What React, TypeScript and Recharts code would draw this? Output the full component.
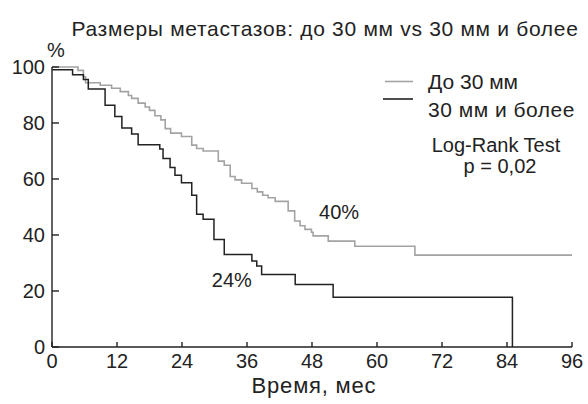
import { LineChart, Line, XAxis, YAxis, ReferenceDot } from 'recharts'

// survival, %
const shortMonths = [0, 4.8, 5.8, 6.2, 8.9, 11.0, 12.6, 14.1, 14.7, 15.9, 17.2, 18.0, 19.0, 20.1, 20.9, 21.9, 23.9, 25.8, 26.7, 27.9, 30.7, 31.8, 32.9, 33.8, 35.0, 36.9, 37.9, 38.9, 39.9, 41.2, 43.6, 44.8, 45.8, 46.7, 47.9, 48.2, 51.0, 55.9, 67.0, 96]
const shortSurvival = [100, 98.8, 96.5, 94.4, 93.5, 92.4, 91.2, 89.8, 88.8, 87.1, 85.7, 84.5, 82.6, 81.1, 78.0, 76.4, 75.2, 72.1, 70.9, 70.0, 66.4, 64.9, 60.9, 59.7, 58.5, 56.6, 55.4, 54.2, 53.3, 52.0, 48.6, 45.0, 43.3, 42.0, 41.0, 39.7, 37.8, 36.0, 32.8, 32.8]

const longMonths = [0, 3.8, 5.8, 6.7, 9.8, 11.6, 12.9, 14.7, 15.9, 19.9, 20.5, 21.8, 22.7, 23.9, 25.8, 26.7, 27.9, 29.9, 31.8, 36.9, 37.8, 38.7, 44.9, 51.9, 85.0]
const longSurvival = [99.0, 97.2, 95.5, 92.1, 86.3, 82.3, 78.2, 76.1, 72.2, 70.7, 67.3, 64.1, 61.3, 58.7, 54.2, 47.4, 45.6, 38.4, 33.0, 30.7, 28.9, 25.9, 22.3, 17.8, 0]

const xTicks = [0, 12, 24, 36, 48, 60, 72, 84, 96]
const yTicks = [0, 20, 40, 60, 80, 100]

const shortData = shortMonths.map((m, i) => ({ m, s: shortSurvival[i] }))
const longData = longMonths.map((m, i) => ({ m, s: longSurvival[i] }))

const INK = '#222'
const GRAY = '#a3a3a3'
const tickStyle = { fontSize: 20, fill: INK }

export default function App() {
  return (
    <div
      style={{
        position: 'absolute',
        left: 0,
        top: 0,
        width: 588,
        height: 404,
        background: '#fff',
        fontFamily: '"Liberation Sans", Arial, sans-serif',
      }}
    >
      <LineChart width={588} height={404} margin={{ top: 67, right: 16, left: 0, bottom: 0 }}>
        <XAxis
          type="number"
          dataKey="m"
          domain={[0, 96]}
          ticks={xTicks}
          interval={0}
          height={57}
          tick={tickStyle}
          tickSize={-5}
          tickMargin={12}
          stroke={INK}
          strokeWidth={1.4}
        />
        <YAxis
          type="number"
          dataKey="s"
          domain={[0, 100]}
          ticks={yTicks}
          interval={0}
          width={52}
          tick={tickStyle}
          tickSize={-7}
          tickMargin={14}
          stroke={INK}
          strokeWidth={1.4}
        />
        <Line
          data={shortData}
          dataKey="s"
          type="stepAfter"
          stroke={GRAY}
          strokeWidth={1.6}
          dot={false}
          isAnimationActive={false}
        />
        <Line
          data={longData}
          dataKey="s"
          type="stepAfter"
          stroke={INK}
          strokeWidth={1.5}
          dot={false}
          isAnimationActive={false}
        />
        <ReferenceDot
          x={53}
          y={48.3}
          r={0}
          stroke="none"
          label={{ value: '40%', position: 'center', fontSize: 20, fill: INK }}
        />
        <ReferenceDot
          x={33.2}
          y={24}
          r={0}
          stroke="none"
          label={{ value: '24%', position: 'center', fontSize: 20, fill: INK }}
        />
      </LineChart>
      <svg
        width={588}
        height={404}
        style={{ position: 'absolute', left: 0, top: 0, pointerEvents: 'none' }}
      >
        <g fill={INK} fontSize={21}>
          <text x={325} y={28} textAnchor="middle" dominantBaseline="central" letterSpacing={0.7}>
            Размеры метастазов: до 30 мм vs 30 мм и более
          </text>
          <text x={56} y={50} textAnchor="middle" dominantBaseline="central" fontSize={20}>%</text>
          <text x={428} y={81} dominantBaseline="central">До 30 мм</text>
          <text x={428} y={109} dominantBaseline="central" letterSpacing={0.5}>30 мм и более</text>
          <text x={496} y={145} textAnchor="middle" dominantBaseline="central" fontSize={20}>Log-Rank Test</text>
          <text x={500} y={166} textAnchor="middle" dominantBaseline="central" fontSize={20}>p = 0,02</text>
          <text x={314} y={385} textAnchor="middle" dominantBaseline="central" fontSize={22} letterSpacing={0.8}>
            Время, мес
          </text>
        </g>
        <line x1={385} x2={413} y1={81.5} y2={81.5} stroke={GRAY} strokeWidth={1.6} />
        <line x1={383} x2={413} y1={99} y2={99} stroke={INK} strokeWidth={1.6} />
      </svg>
    </div>
  )
}
